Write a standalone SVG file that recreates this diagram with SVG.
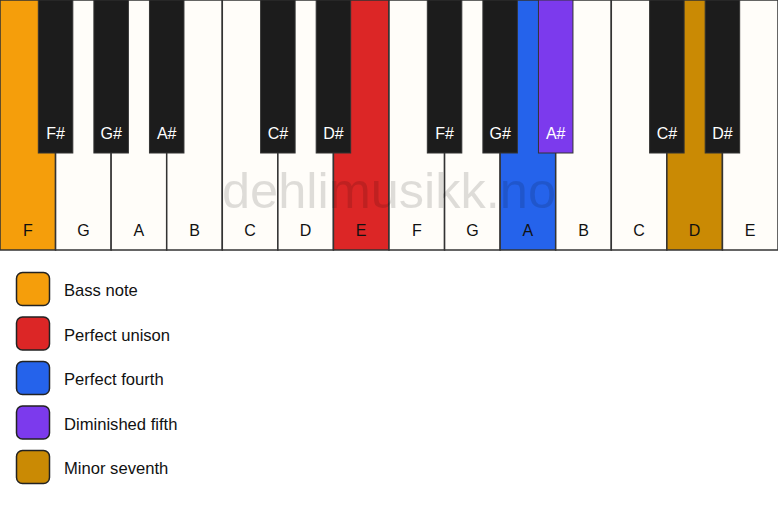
<svg xmlns="http://www.w3.org/2000/svg" width="778" height="506" viewBox="0 0 778 506">
<style>
.w{fill:#fffdf9;stroke:#333;stroke-width:1.5}
.b{fill:#1c1c1c;stroke:#333;stroke-width:1}
.lw{font-family:"Liberation Sans",Arial,sans-serif;font-size:16px;fill:#111;text-anchor:middle}
.lb{font-family:"Liberation Sans",Arial,sans-serif;font-size:16px;fill:#fff;text-anchor:middle}
.sw{stroke:#222;stroke-width:1.5}
.lg{font-family:"Liberation Sans",Arial,sans-serif;font-size:16.6px;fill:#111}
</style>
<rect width="778" height="506" fill="#ffffff"/>
<g id="white-keys">
<g id="key-F1"><rect class="w" x="0" y="0" width="55.57" height="250" style="fill:#f59e0b"/><text class="lw" x="27.79" y="236">F</text></g>
<g id="key-G1"><rect class="w" x="55.57" y="0" width="55.57" height="250"/><text class="lw" x="83.36" y="236">G</text></g>
<g id="key-A1"><rect class="w" x="111.14" y="0" width="55.57" height="250"/><text class="lw" x="138.93" y="236">A</text></g>
<g id="key-B1"><rect class="w" x="166.71" y="0" width="55.57" height="250"/><text class="lw" x="194.5" y="236">B</text></g>
<g id="key-C2"><rect class="w" x="222.29" y="0" width="55.57" height="250"/><text class="lw" x="250.07" y="236">C</text></g>
<g id="key-D2"><rect class="w" x="277.86" y="0" width="55.57" height="250"/><text class="lw" x="305.64" y="236">D</text></g>
<g id="key-E2"><rect class="w" x="333.43" y="0" width="55.57" height="250" style="fill:#dc2626"/><text class="lw" x="361.21" y="236">E</text></g>
<g id="key-F2"><rect class="w" x="389" y="0" width="55.57" height="250"/><text class="lw" x="416.79" y="236">F</text></g>
<g id="key-G2"><rect class="w" x="444.57" y="0" width="55.57" height="250"/><text class="lw" x="472.36" y="236">G</text></g>
<g id="key-A2"><rect class="w" x="500.14" y="0" width="55.57" height="250" style="fill:#2563eb"/><text class="lw" x="527.93" y="236">A</text></g>
<g id="key-B2"><rect class="w" x="555.71" y="0" width="55.57" height="250"/><text class="lw" x="583.5" y="236">B</text></g>
<g id="key-C3"><rect class="w" x="611.29" y="0" width="55.57" height="250"/><text class="lw" x="639.07" y="236">C</text></g>
<g id="key-D3"><rect class="w" x="666.86" y="0" width="55.57" height="250" style="fill:#ca8a04"/><text class="lw" x="694.64" y="236">D</text></g>
<g id="key-E3"><rect class="w" x="722.43" y="0" width="55.57" height="250"/><text class="lw" x="750.21" y="236">E</text></g>
</g>
<text id="watermark" x="389" y="208" font-family="'Liberation Sans',Arial,sans-serif" font-size="50.5" text-anchor="middle" fill="#000" fill-opacity="0.13">dehlimusikk.no</text>
<g id="black-keys">
<g id="key-Fs1"><rect class="b" x="38.32" y="0" width="34.5" height="153"/><text class="lb" x="55.57" y="139">F#</text></g>
<g id="key-Gs1"><rect class="b" x="93.89" y="0" width="34.5" height="153"/><text class="lb" x="111.14" y="139">G#</text></g>
<g id="key-As1"><rect class="b" x="149.46" y="0" width="34.5" height="153"/><text class="lb" x="166.71" y="139">A#</text></g>
<g id="key-Cs2"><rect class="b" x="260.61" y="0" width="34.5" height="153"/><text class="lb" x="277.86" y="139">C#</text></g>
<g id="key-Ds2"><rect class="b" x="316.18" y="0" width="34.5" height="153"/><text class="lb" x="333.43" y="139">D#</text></g>
<g id="key-Fs2"><rect class="b" x="427.32" y="0" width="34.5" height="153"/><text class="lb" x="444.57" y="139">F#</text></g>
<g id="key-Gs2"><rect class="b" x="482.89" y="0" width="34.5" height="153"/><text class="lb" x="500.14" y="139">G#</text></g>
<g id="key-As2"><rect class="b" x="538.46" y="0" width="34.5" height="153" style="fill:#7c3aed"/><text class="lb" x="555.71" y="139">A#</text></g>
<g id="key-Cs3"><rect class="b" x="649.61" y="0" width="34.5" height="153"/><text class="lb" x="666.86" y="139">C#</text></g>
<g id="key-Ds3"><rect class="b" x="705.18" y="0" width="34.5" height="153"/><text class="lb" x="722.43" y="139">D#</text></g>
</g>
<g id="connectors"/>
<g id="legend">
<g id="legend-bass"><rect class="sw" x="16.5" y="272.5" width="33" height="33" rx="6" fill="#f59e0b"/><text class="lg" x="64" y="296">Bass note</text></g>
<g id="legend-unison"><rect class="sw" x="16.5" y="317" width="33" height="33" rx="6" fill="#dc2626"/><text class="lg" x="64" y="340.5">Perfect unison</text></g>
<g id="legend-fourth"><rect class="sw" x="16.5" y="361.5" width="33" height="33" rx="6" fill="#2563eb"/><text class="lg" x="64" y="385">Perfect fourth</text></g>
<g id="legend-dim5"><rect class="sw" x="16.5" y="406" width="33" height="33" rx="6" fill="#7c3aed"/><text class="lg" x="64" y="429.5">Diminished fifth</text></g>
<g id="legend-min7"><rect class="sw" x="16.5" y="450.5" width="33" height="33" rx="6" fill="#ca8a04"/><text class="lg" x="64" y="474">Minor seventh</text></g>
</g>
</svg>
